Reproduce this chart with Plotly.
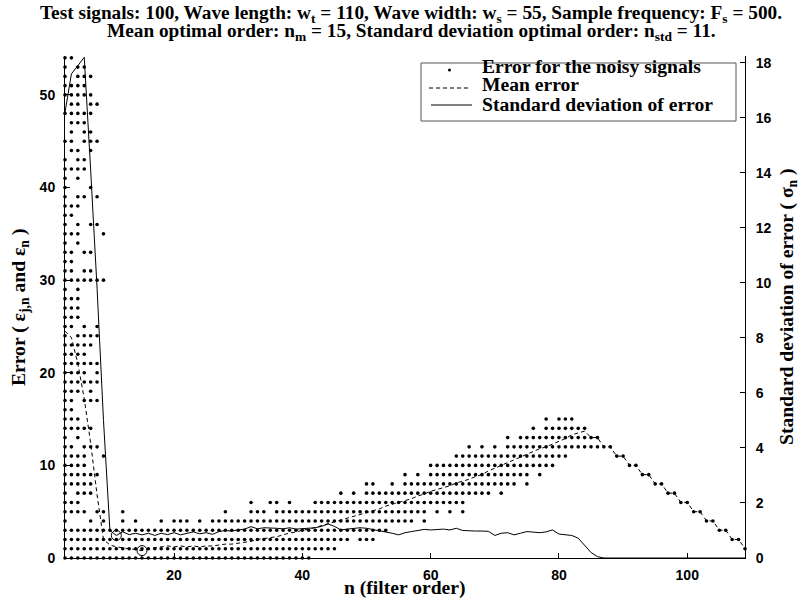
import plotly.graph_objects as go

# filter orders shown on the x axis
n_orders = list(range(3, 110))

# error for the noisy signals: dots at low orders, (error level, filter orders)
dots_left = [
    (54, [3, 4]), (53, [3, 5, 6]), (52, [3, 5, 6, 7]), (51, [3, 4, 5, 6]),
    (50, [3, 4, 5, 6, 7]), (49, [4, 5, 7, 8]), (48, [3, 4, 5, 6, 7]), (47, [4, 5, 6]),
    (46, [4, 6, 7]), (45, [3, 4, 6, 7, 8]), (44, [4, 5, 7]), (43, [3, 5, 6]),
    (42, [3, 4, 5, 6]), (41, [3, 5]), (40, [3, 7]), (39, [3, 5, 6, 8]),
    (38, [3, 4, 5]), (37, [3, 4]), (36, [3, 5, 7, 8]), (35, [3, 4, 5, 9]),
    (34, [3, 5]), (33, [3, 4, 6, 7]), (32, [3, 4]), (31, [3, 4, 6, 7]),
    (30, [3, 4, 5, 6, 7, 8, 9]), (29, [3, 5]), (28, [3, 4, 5]), (27, [3, 4, 5]),
    (26, [3, 4, 5]), (25, [3, 4, 6, 8]), (24, [3, 5, 6, 7, 8]), (23, [3, 4, 5, 6, 7]),
    (22, [3, 4, 5, 6]), (21, [3, 4, 5, 6, 7, 8]), (20, [3, 4, 5, 6, 8]), (19, [3, 4, 5, 6, 7, 8]),
    (18, [3, 4, 5, 7]), (17, [3, 4, 6, 7, 8]), (16, [3, 4]), (15, [3, 4, 5]),
    (14, [3, 4, 5, 6, 7]), (13, [3, 5]), (12, [3, 4, 6, 7, 8]), (11, [3, 4, 5, 6, 9]),
    (10, [3, 4, 5, 6]), (9, [3, 4, 5, 6, 7, 8]), (8, [3, 4, 5, 6, 7]), (7, [3, 5, 6, 7]),
    (6, [3, 4, 5]), (5, [3, 4, 5, 6, 8, 9, 12]),
    (4, [3, 7, 9, 12, 14, 18, 20, 21, 22, 24]),
]

# runs of dots further right: (error level, first order, last order)
dots_runs = [
    (0, 3, 41), (1, 3, 45), (2, 3, 47), (2, 49, 51), (3, 3, 53),
    (4, 26, 57), (4, 59, 59),
    (5, 28, 28), (5, 32, 34), (5, 36, 59), (5, 61, 61), (5, 63, 63), (5, 65, 65),
    (6, 32, 32), (6, 35, 36), (6, 38, 38), (6, 42, 65),
    (7, 46, 46), (7, 48, 48), (7, 50, 69), (7, 71, 71),
    (8, 50, 51), (8, 54, 54), (8, 56, 73), (8, 75, 75),
    (9, 56, 56), (9, 58, 58), (9, 60, 75), (9, 77, 77),
    (10, 60, 79), (11, 64, 81),
    (12, 66, 66), (12, 68, 68), (12, 70, 70), (12, 72, 88),
    (13, 72, 72), (13, 74, 86),
    (14, 76, 76), (14, 78, 84),
    (15, 78, 78), (15, 80, 82),
]

# single error value for every signal at the high orders
tail_orders = [89, 90, 91, 92, 93, 94, 95, 96, 97, 98, 99, 100, 101, 102, 103, 104, 105, 106, 107, 108, 109]
tail_error = [11, 11, 10, 10, 9, 9, 8, 8, 7, 7, 6, 6, 5, 5, 4, 4, 3, 3, 2, 2, 1]

mean_err = [
    24.5, 23.8, 21.0, 17.2, 12.4, 6.8, 2.0, 1.4, 1.2, 1.1,
    1.0, 0.95, 0.8, 1.0, 1.1, 1.2, 1.3, 1.2, 1.3, 1.2,
    1.3, 1.2, 1.3, 1.3, 1.4, 1.5, 1.5, 1.6, 1.7, 1.8,
    2.0, 2.1, 2.2, 2.3, 2.5, 2.7, 2.8, 3.0, 3.1, 3.3,
    3.5, 3.7, 3.9, 4.1, 4.3, 4.5, 4.7, 4.9, 5.1, 5.3,
    5.6, 5.8, 6.0, 6.2, 6.4, 6.7, 6.9, 7.2, 7.4, 7.6,
    7.8, 8.1, 8.3, 8.5, 8.8, 9.0, 9.4, 9.7, 10.0, 10.3,
    10.6, 10.9, 11.2, 11.5, 11.8, 12.0, 12.3, 12.6, 12.9, 13.3,
    13.5, 13.7, 13.0, 13.0, 12, 12, 11, 11, 10, 10,
    9, 9, 8, 8, 7, 7, 6, 6, 5, 5,
    4, 4, 3, 3, 2, 2, 1,
]

std_err = [
    16.2, 17.6, 17.9, 18.2, 14.1, 9.8, 5.0, 1.0, 0.82, 0.95,
    0.85, 0.9, 0.84, 0.9, 0.82, 0.9, 0.85, 0.92, 0.84, 0.9,
    0.95, 0.88, 0.92, 0.86, 0.96, 1.0, 0.98, 1.02, 1.05, 1.14,
    1.06, 1.1, 1.1, 1.08, 1.06, 1.1, 1.05, 1.07, 1.1, 1.1,
    1.15, 1.24, 1.15, 1.02, 1.05, 1.08, 1.1, 1.08, 1.04, 1.0,
    0.96, 0.9, 0.84, 0.92, 0.96, 1.0, 1.04, 1.02, 1.03, 1.05,
    1.02, 1.08, 1.0, 0.98, 0.98, 0.98, 0.97, 0.82, 0.9, 0.92,
    0.84, 0.9, 0.96, 0.94, 0.92, 0.95, 1.02, 0.87, 0.85, 0.82,
    0.72, 0.45, 0.2, 0.05, 0, 0, 0, 0, 0, 0,
    0, 0, 0, 0, 0, 0, 0, 0, 0, 0,
    0, 0, 0, 0, 0, 0, 0,
]

# optimal orders (marked with circles)
n_mean_opt, mean_opt = 15, 0.8
n_std_opt, std_opt = 11, 0.82

legend_labels = ["Error for the noisy signals", "Mean error", "Standard deviation of error"]

dot_x, dot_y = [], []
for e, ns in dots_left:
    for n in ns:
        dot_x.append(n)
        dot_y.append(e)
for e, a, b in dots_runs:
    for n in range(a, b + 1):
        dot_x.append(n)
        dot_y.append(e)
dot_x += tail_orders
dot_y += tail_error

serif = "Liberation Serif"
sans = "Liberation Sans"
black = "black"

# plot box in pixels
PX0, PX1, PY0, PY1 = 65, 745, 56, 558


def px(x):
    return (x - PX0) / (PX1 - PX0)


def py(y):
    return (PY1 - y) / (PY1 - PY0)


fig = go.Figure()
fig.add_trace(go.Scatter(x=dot_x, y=dot_y, mode="markers", name=legend_labels[0], showlegend=False,
                         marker=dict(color=black, size=3.6), cliponaxis=False))
fig.add_trace(go.Scatter(x=n_orders, y=mean_err, mode="lines", name=legend_labels[1], showlegend=False,
                         line=dict(color=black, width=1, dash="4px,3px")))
fig.add_trace(go.Scatter(x=n_orders, y=std_err, mode="lines", name=legend_labels[2], showlegend=False,
                         line=dict(color=black, width=1), yaxis="y2"))
fig.add_trace(go.Scatter(x=[n_mean_opt], y=[mean_opt], mode="markers", showlegend=False,
                         marker=dict(symbol="circle-open", size=10, color=black, line=dict(width=1))))
fig.add_trace(go.Scatter(x=[n_std_opt], y=[std_opt], mode="markers", showlegend=False, yaxis="y2",
                         marker=dict(symbol="circle-open", size=10, color=black, line=dict(width=1))))

axis_common = dict(showline=True, linecolor=black, linewidth=1, ticks="inside", ticklen=5,
                   tickcolor=black, showgrid=False, zeroline=False,
                   tickfont=dict(family=sans, size=14, color=black, weight="bold"))
text_font = dict(family=serif, size=19.6, color=black, weight="bold")
head_font = dict(family=serif, size=19.3, color=black, weight="bold")

fig.update_layout(
    width=801, height=608,
    margin=dict(l=PX0, r=801 - PX1, t=PY0, b=608 - PY1),
    paper_bgcolor="white", plot_bgcolor="white",
    showlegend=False,
    xaxis=dict(range=[3, 109], tickvals=[20, 40, 60, 80, 100], ticklabelstandoff=4, **axis_common),
    yaxis=dict(range=[0, 54.2], tickvals=[0, 10, 20, 30, 40, 50], ticklabelstandoff=6, **axis_common),
    yaxis2=dict(range=[0, 18.25], tickvals=list(range(0, 19, 2)), overlaying="y", side="right",
                ticklabelstandoff=7, **axis_common),
)


def note(text, x, y, font, xanchor="center", **kw):
    fig.add_annotation(text=text, x=px(x), y=py(y), xref="paper", yref="paper", showarrow=False,
                       xanchor=xanchor, yanchor="middle", font=font, **kw)


# two-line title
note("Test signals: 100, Wave length: w<sub>t</sub> = 110, Wave width: w<sub>s</sub> = 55, "
     "Sample frequency: F<sub>s</sub> = 500.", 411, 14, head_font)
note("Mean optimal order: n<sub>m</sub> = 15, Standard deviation optimal order: "
     "n<sub>std</sub> = 11.", 411, 32, head_font)

# axis titles
note("n (filter order)", 405, 588, text_font)
note("Error ( ε<sub>j,n</sub> and ε<sub>n</sub> )", 20, 308, text_font, textangle=-90)
note("Standard deviation of error ( σ<sub>n</sub> )", 788, 307, text_font, textangle=-90)

# legend box drawn by hand so its rows sit as tight as in the reference
fig.add_shape(type="rect", xref="paper", yref="paper", x0=px(421), x1=px(736), y0=py(63), y1=py(121),
              line=dict(color="#555", width=1), fillcolor="white", layer="above")
row_y = [67, 85, 104]
for label, ry in zip(legend_labels, row_y):
    note(label, 480, ry, text_font, xanchor="left")
fig.add_shape(type="circle", xref="paper", yref="paper", x0=px(448), x1=px(451), y0=py(68.5), y1=py(71.5),
              line=dict(color=black, width=0), fillcolor=black, layer="above")
fig.add_shape(type="line", xref="paper", yref="paper", x0=px(429), x1=px(471), y0=py(88), y1=py(88),
              line=dict(color=black, width=1, dash="4px,3px"), layer="above")
fig.add_shape(type="line", xref="paper", yref="paper", x0=px(431), x1=px(472), y0=py(105), y1=py(105),
              line=dict(color=black, width=1), layer="above")

# the page's default 8px body margin would push the 801x608 figure off the window
fig.write_html("out.html", config={"displayModeBar": False},
               post_script="document.body.style.margin = '0px';")
